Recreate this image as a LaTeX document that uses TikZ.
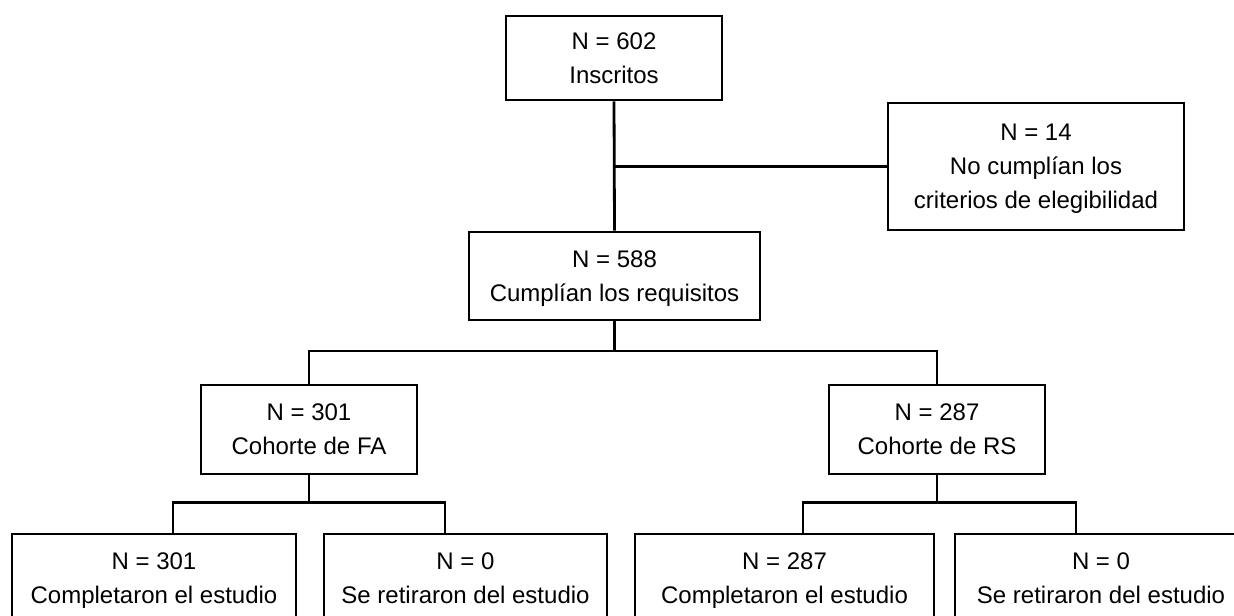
\documentclass[tikz,border=0pt]{standalone}
\usepackage{fontspec}
\setmainfont{Liberation Sans}

\begin{document}
\begin{tikzpicture}[x=0.5pt, y=-0.5pt,
        box/.style = {  rectangle,
                        draw = black,
                        line width = 1.4pt,
                        text = black,
                        fill = white,
                        align = center,
                        inner sep = 0pt,
                        text depth = -0.5pt,
                        font = \fontsize{12}{17}\selectfont},
        link/.style = {line width = 1.4pt}]
        \useasboundingbox (0,0) rectangle (1234,615);
        \clip (0,0) rectangle (1234,615);
        % ---------------------------------------------------------------------------
        % Draw nodes
        % ---------------------------------------------------------------------------
        \node[  box,
                minimum width = 108pt,
                minimum height = 42pt]  (Inscritos) at (614,58) {N = 602\\Inscritos};

        \node[  box,
                minimum width = 148pt,
                minimum height = 63.5pt]  (Excluidos) at (1036,166.5) {N = 14\\No cumplían los\\criterios de elegibilidad};

        \node[  box,
                minimum width = 145.5pt,
                minimum height = 44pt]  (Elegibles) at (614.5,276) {N = 588\\Cumplían los requisitos};

        \node[  box,
                minimum width = 108pt,
                minimum height = 44.5pt]  (CohorteFA) at (309,429.5) {N = 301\\Cohorte de FA};

        \node[  box,
                minimum width = 108pt,
                minimum height = 44.5pt]  (CohorteRS) at (937,429.5) {N = 287\\Cohorte de RS};

        \node[  box,
                minimum width = 142pt,
                minimum height = 44.5pt]  (FACompletos) at (154,578.5) {N = 301\\Completaron el estudio};

        \node[  box,
                minimum width = 141.5pt,
                minimum height = 44.5pt]  (FARetirados) at (465.5,578.5) {N = 0\\Se retiraron del estudio};

        \node[  box,
                minimum width = 149.5pt,
                minimum height = 44.5pt]  (RSCompletos) at (784.5,578.5) {N = 287\\Completaron el estudio};

        \node[  box,
                minimum width = 146pt,
                minimum height = 44.5pt]  (RSRetirados) at (1101,578.5) {N = 0\\Se retiraron del estudio};

        % ---------------------------------------------------------------------------
        % Branch points
        % ---------------------------------------------------------------------------
        \coordinate (RamaCohortes) at (614.5,351);
        \coordinate (RamaFA)       at (309,502.5);
        \coordinate (FAizq)        at (173,502.5);
        \coordinate (FAder)        at (445,502.5);
        \coordinate (RamaRS)       at (937,502.5);
        \coordinate (RSizq)        at (803,502.5);
        \coordinate (RSder)        at (1076,502.5);

        % ---------------------------------------------------------------------------
        % Draw connectors
        % ---------------------------------------------------------------------------
        \draw [link]    (Inscritos.south)       -- (Elegibles.north);                           % Inscritos
        \draw [link]    (Inscritos.south |- Excluidos.west) -- (Excluidos.west);                % Excluidos
        \draw [link]    (Elegibles.south)       -- (RamaCohortes);                              % Elegibles
        \draw [link]    (CohorteFA.north)       |- (RamaCohortes) -| (CohorteRS.north);         % Cohortes
        \draw [link]    (CohorteFA.south)       -- (RamaFA);                                    % FA
        \draw [link]    (FAizq |- FACompletos.north) -- (FAizq) -- (FAder) -- (FAder |- FARetirados.north);
        \draw [link]    (CohorteRS.south)       -- (RamaRS);                                    % RS
        \draw [link]    (RSizq |- RSCompletos.north) -- (RSizq) -- (RSder) -- (RSder |- RSRetirados.north);

    \end{tikzpicture}
\end{document}
